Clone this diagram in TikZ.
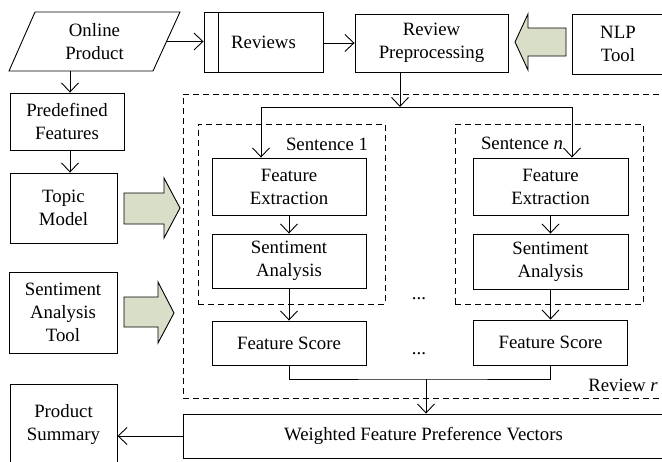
\documentclass[tikz,border=0pt]{standalone}
\usepackage{fontspec}
\setmainfont{Liberation Serif}
\usetikzlibrary{arrows.meta,calc}
\definecolor{blockgreen}{RGB}{216,222,200}
\begin{document}
\begin{tikzpicture}[x=1pt,y=-1pt,
  every node/.style={font=\fontsize{18.8}{23}\selectfont, align=center, inner sep=0pt},
  box/.style={draw, line width=0.9pt},
  dbox/.style={draw, dash pattern=on 6pt off 4pt, line width=0.9pt},
  arr/.style={-{Straight Barb[length=9pt,width=17pt,line width=0.9pt]}, line width=0.9pt},
  ln/.style={line width=0.9pt},
  blk/.style={draw, fill=blockgreen, line width=0.9pt, line join=miter},
]
\useasboundingbox (0,0) rectangle (662,461);
\clip (0,0) rectangle (662,461);

% top row
\draw[ln] (35,12) -- (180,12) -- (153,71) -- (9,71) -- cycle;
\node (op) at (94.5,41.5) {Online\\Product};
\coordinate (opR) at (166.5,41.5);
\coordinate (opB) at (70,71);
\node[box, minimum width=119pt, minimum height=60pt] (rev) at (263.5,42) {Reviews};
\draw[ln] ($(rev.north west)+(15,0)$) -- ($(rev.south west)+(15,0)$);
\node[box, minimum width=153pt, minimum height=58pt] (rp) at (431.5,43) {Review\\Preprocessing};
\node[box, minimum width=92pt, minimum height=60pt] (nlp) at (618,44) {NLP\\Tool};

% left column
\node[box, minimum width=114pt, minimum height=57pt] (pf) at (67,121.5) {Predefined\\Features};
\node[box, minimum width=107pt, minimum height=70pt] (tm) at (63.5,208) {Topic\\Model};
\node[box, minimum width=108pt, minimum height=81pt] (sat) at (63,312.5) {Sentiment\\Analysis\\Tool};
\node[box, minimum width=107pt, minimum height=82pt] (ps) at (63.5,425) {Product\\Summary};

% review r
\node[dbox, minimum width=481pt, minimum height=304pt] (rr) at (423.5,246) {};
\node[anchor=base east] (rrl) at (658,391) {Review \textit{r}};
\node[dbox, minimum width=187pt, minimum height=180pt] (s1) at (291.5,214) {};
\node[dbox, minimum width=188pt, minimum height=180pt] (sn) at (549,214) {};
\node[anchor=base] (s1l) at (327,150) {Sentence 1};
\node[anchor=base] (snl) at (522,149) {Sentence \textit{n}};

\node[box, minimum width=154pt, minimum height=57pt] (fe1) at (289,186.5) {Feature\\Extraction};
\node[box, minimum width=154pt, minimum height=54pt] (sa1) at (289,261) {Sentiment\\Analysis};
\node[box, minimum width=155pt, minimum height=57pt] (fen) at (550.5,186.5) {Feature\\Extraction};
\node[box, minimum width=155pt, minimum height=55pt] (san) at (550.5,261.5) {Sentiment\\Analysis};
\node[box, minimum width=154pt, minimum height=44pt] (fs1) at (289,343) {Feature Score};
\node[box, minimum width=154pt, minimum height=45pt] (fsn) at (550.5,342.5) {Feature Score};
\node[anchor=base] (d1) at (419,299) {...};
\node[anchor=base] (d2) at (419,354) {...};
\node[box, minimum width=481pt, minimum height=44pt] (wv) at (423.5,436) {Weighted Feature Preference Vectors};

% block arrows
\draw[blk] (124,193) -- (164,193) -- (164,178) -- (180,208) -- (164,238) -- (164,224) -- (124,224) -- cycle;
\draw[blk] (124,297) -- (158,297) -- (158,282) -- (174,313) -- (158,343) -- (158,327) -- (124,327) -- cycle;
\draw[blk] (566,28) -- (528,28) -- (528,14) -- (515,42) -- (528,70) -- (528,56) -- (566,56) -- cycle;

% connectors
\draw[arr] (opR) -- (rev.west |- opR);
\draw[arr] (rev.east |- rp.west) -- (rp.west);
\draw[arr] (opB) -- (opB |- pf.north);
\draw[arr] (opB |- pf.south) -- (opB |- tm.north);
\coordinate (sp) at (400,107);
\coordinate (jl) at (261,107);
\coordinate (jr) at (572,107);
\draw[arr] (rp.south -| sp) -- (sp);
\draw[ln] (jl) -- (jr);
\draw[arr] (jl) -- (jl |- fe1.north);
\draw[arr] (jr) -- (jr |- fen.north);
\draw[arr] (fe1) -- (sa1);
\draw[arr] (fen) -- (san);
\draw[arr] (sa1) -- (fs1);
\draw[arr] (san) -- (fsn);
\coordinate (mj) at (426,379);
\draw[ln] (fs1.south) |- (mj) -| (fsn.south);
\draw[arr] (mj) -- (mj |- wv.north);
\draw[arr] (wv.west) -- (wv.west -| ps.east);
\end{tikzpicture}
\end{document}
